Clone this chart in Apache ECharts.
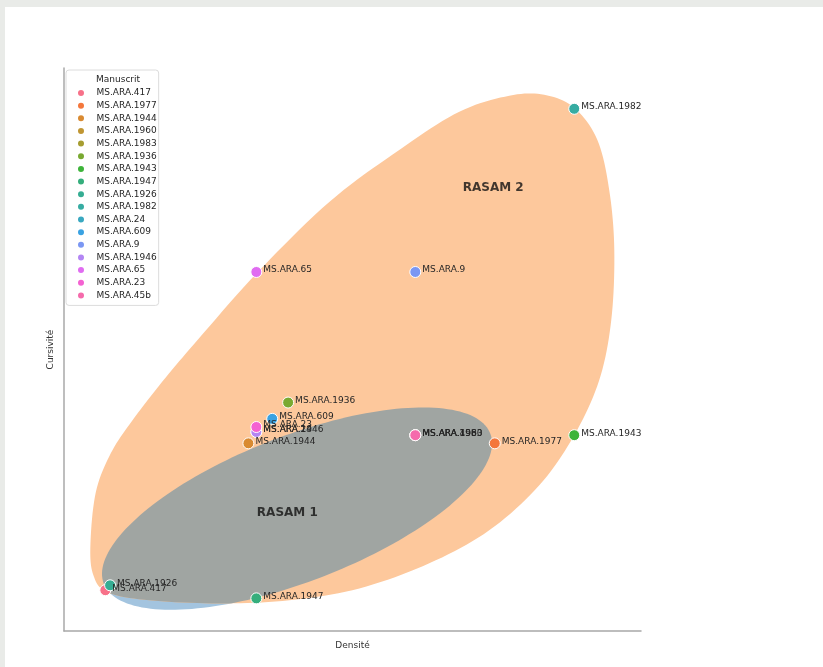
<!DOCTYPE html>
<html>
<head>
<meta charset="utf-8">
<script src="https://cdn.jsdelivr.net/npm/echarts@6/dist/echarts.min.js"></script>
<style>
  html, body { margin: 0; padding: 0; background: #e9ebe8; }
  #chart { position: absolute; left: 5px; top: 7px; width: 818px; height: 660px; background: #ffffff; }
</style>
</head>
<body>
<div id="chart"></div>
<script>
// Manuscripts, in legend order
const manuscripts = [
  'MS.ARA.417', 'MS.ARA.1977', 'MS.ARA.1944', 'MS.ARA.1960', 'MS.ARA.1983',
  'MS.ARA.1936', 'MS.ARA.1943', 'MS.ARA.1947', 'MS.ARA.1926', 'MS.ARA.1982',
  'MS.ARA.24', 'MS.ARA.609', 'MS.ARA.9', 'MS.ARA.1946', 'MS.ARA.65',
  'MS.ARA.23', 'MS.ARA.45b'
];
const densite   = [0.05, 2.5, 0.95, 2.0, 2.0, 1.2, 3.0, 1.0, 0.08, 3.0, 1.0, 1.1, 2.0, 1.0, 1.0, 1.0, 2.0];
const cursivite = [0.05, 0.95, 0.95, 1.0, 1.0, 1.2, 1.0, 0.0, 0.08, 3.0, 1.02, 1.1, 2.0, 1.02, 2.0, 1.05, 1.0];

// Group annotations
const groupNames = ['RASAM 1', 'RASAM 2'];
const groupDensite = [1.195, 2.49];
const groupCursivite = [0.521, 2.515];

// RASAM 1 zone: ellipse (centre, semi-axes, rotation in degrees)
const rasam1Centre = [1.256, 0.55];
const rasam1Axes = [1.30, 0.447];
const rasam1Angle = 20.6;

// RASAM 2 zone: contour (densité, cursivité), smoothed when drawn
const rasam2Contour = [
  [-0.044, 0.325], [-0.010, 0.650], [0.085, 0.890], [0.220, 1.090], [0.410, 1.330],
  [0.610, 1.560], [1.0, 1.99], [1.459, 2.429], [1.899, 2.748], [2.277, 2.982],
  [2.591, 3.080], [2.811, 3.086], [3.0, 3.006], [3.145, 2.810], [3.220, 2.503],
  [3.252, 2.135], [3.233, 1.706], [3.157, 1.337], [3.0, 1.0], [2.780, 0.693],
  [2.465, 0.417], [2.088, 0.215], [1.648, 0.061], [1.208, -0.012], [0.767, -0.031],
  [0.327, -0.012], [0.063, 0.037], [-0.025, 0.141]
];

const palette = [
  '#f77189', '#f4773c', '#d98a31', '#c09633', '#a69d31', '#79a931', '#3db43a',
  '#35ae7c', '#35ad93', '#36aca2', '#39a8c0', '#3aa2e2', '#7b97f3', '#b386f4',
  '#e06cf1', '#f462d2', '#f56bac'
];

const zoneOrange = '#fdc89c';
const zoneBlue = '#a3c4df';
const zoneGrey = '#a0a5a2';

// closed Catmull-Rom densification of a pixel polygon
function densify(pts, steps) {
  const out = [];
  const n = pts.length;
  for (let i = 0; i < n; i++) {
    const p0 = pts[(i - 1 + n) % n], p1 = pts[i], p2 = pts[(i + 1) % n], p3 = pts[(i + 2) % n];
    for (let s = 0; s < steps; s++) {
      const t = s / steps, t2 = t * t, t3 = t2 * t;
      const f = (a, b, c, d) => 0.5 * ((2 * b) + (-a + c) * t + (2 * a - 5 * b + 4 * c - d) * t2 + (-a + 3 * b - 3 * c + d) * t3);
      out.push([f(p0[0], p1[0], p2[0], p3[0]), f(p0[1], p1[1], p2[1], p3[1])]);
    }
  }
  return out;
}

function ellipsePoints() {
  const pts = [];
  const th = rasam1Angle * Math.PI / 180;
  for (let i = 0; i < 180; i++) {
    const t = i / 180 * 2 * Math.PI;
    const ex = rasam1Axes[0] * Math.cos(t), ey = rasam1Axes[1] * Math.sin(t);
    pts.push([
      rasam1Centre[0] + ex * Math.cos(th) - ey * Math.sin(th),
      rasam1Centre[1] + ex * Math.sin(th) + ey * Math.cos(th)
    ]);
  }
  return pts;
}

function signedArea(poly) {
  let a = 0;
  for (let i = 0; i < poly.length; i++) {
    const p = poly[i], q = poly[(i + 1) % poly.length];
    a += p[0] * q[1] - q[0] * p[1];
  }
  return a / 2;
}

// Sutherland-Hodgman clipping of a polygon by a convex polygon
function clipPolygon(subject, clip) {
  const orient = signedArea(clip) > 0 ? 1 : -1;
  let output = subject.slice();
  for (let i = 0; i < clip.length && output.length; i++) {
    const a = clip[i], b = clip[(i + 1) % clip.length];
    const inside = p => orient * ((b[0] - a[0]) * (p[1] - a[1]) - (b[1] - a[1]) * (p[0] - a[0])) >= 0;
    const inter = (p, q) => {
      const a1 = b[1] - a[1], b1 = a[0] - b[0], c1 = a1 * a[0] + b1 * a[1];
      const a2 = q[1] - p[1], b2 = p[0] - q[0], c2 = a2 * p[0] + b2 * p[1];
      const det = a1 * b2 - a2 * b1;
      return [(b2 * c1 - b1 * c2) / det, (a1 * c2 - a2 * c1) / det];
    };
    const input = output;
    output = [];
    for (let j = 0; j < input.length; j++) {
      const cur = input[j], prev = input[(j - 1 + input.length) % input.length];
      if (inside(cur)) {
        if (!inside(prev)) output.push(inter(prev, cur));
        output.push(cur);
      } else if (inside(prev)) {
        output.push(inter(prev, cur));
      }
    }
  }
  return output;
}

const font = 'DejaVu Sans';

const pointSeries = manuscripts.map((name, i) => ({
  name: name,
  type: 'scatter',
  z: 5,
  symbol: 'circle',
  symbolSize: 11,
  itemStyle: { color: palette[i], borderColor: '#ffffff', borderWidth: 1, opacity: 1 },
  label: {
    show: true, position: 'right', distance: 1, offset: [0, -2],
    formatter: name, fontSize: 9, fontFamily: font, color: '#262626'
  },
  emphasis: { disabled: true },
  data: [[densite[i], cursivite[i]]]
}));

const zoneSeries = [
  {
    name: 'zone RASAM 1', type: 'custom', z: 1, silent: true,
    data: [[0, 0]],
    renderItem: function (params, api) {
      const pts = ellipsePoints().map(p => api.coord(p));
      return { type: 'polygon', shape: { points: pts }, style: { fill: zoneBlue } };
    }
  },
  {
    name: 'zone RASAM 2', type: 'custom', z: 2, silent: true,
    data: [[0, 0]],
    renderItem: function (params, api) {
      const pts = densify(rasam2Contour.map(p => api.coord(p)), 10);
      return { type: 'polygon', shape: { points: pts }, style: { fill: zoneOrange } };
    }
  },
  {
    name: 'zone commune', type: 'custom', z: 3, silent: true,
    data: [[0, 0]],
    renderItem: function (params, api) {
      const ell = ellipsePoints().map(p => api.coord(p));
      const contour = densify(rasam2Contour.map(p => api.coord(p)), 10);
      const pts = clipPolygon(ell, contour);
      return { type: 'polygon', shape: { points: pts }, style: { fill: zoneGrey } };
    }
  },
  {
    name: 'groupes', type: 'scatter', z: 4, silent: true,
    symbolSize: 0,
    label: {
      show: true, position: 'inside',
      formatter: p => groupNames[p.dataIndex],
      fontSize: 12, fontWeight: 'bold', fontFamily: font, color: '#111'
    },
    data: groupNames.map((g, i) => [groupDensite[i], groupCursivite[i]])
  }
];

const chart = echarts.init(document.getElementById('chart'), null, { renderer: 'canvas' });
chart.setOption({
  animation: false,
  backgroundColor: '#ffffff',
  grid: { left: 59, top: 61, right: 182, bottom: 36 },
  xAxis: {
    type: 'value', min: -0.21, max: 3.42,
    name: 'Densité', nameLocation: 'middle', nameGap: 10,
    nameTextStyle: { fontSize: 9, fontFamily: font, color: '#333' },
    axisLine: { show: true, onZero: false, lineStyle: { color: '#a8a8a8', width: 1.5 } },
    axisTick: { show: false }, axisLabel: { show: false }, splitLine: { show: false }
  },
  yAxis: {
    type: 'value', min: -0.2, max: 3.25,
    name: 'Cursivité', nameLocation: 'middle', nameGap: 9,
    nameTextStyle: { fontSize: 9, fontFamily: font, color: '#333' },
    axisLine: { show: true, onZero: false, lineStyle: { color: '#a8a8a8', width: 1.5 } },
    axisTick: { show: false }, axisLabel: { show: false }, splitLine: { show: false }
  },
  legend: {
    data: manuscripts,
    orient: 'vertical', left: 61, top: 63,
    padding: [18, 2, 5, 10],
    itemWidth: 21, itemHeight: 8, itemGap: 2.65,
    icon: 'circle',
    backgroundColor: '#ffffff', borderColor: '#dcdcdc', borderWidth: 1, borderRadius: 3,
    textStyle: { fontSize: 9, lineHeight: 8, fontFamily: font, color: '#262626' },
    selectedMode: false
  },
  graphic: [{
    type: 'text', left: 91, top: 68, z: 100,
    style: { text: 'Manuscrit', fontSize: 9, fontFamily: font, fill: '#262626' }
  }],
  series: zoneSeries.concat(pointSeries)
});
</script>
</body>
</html>
